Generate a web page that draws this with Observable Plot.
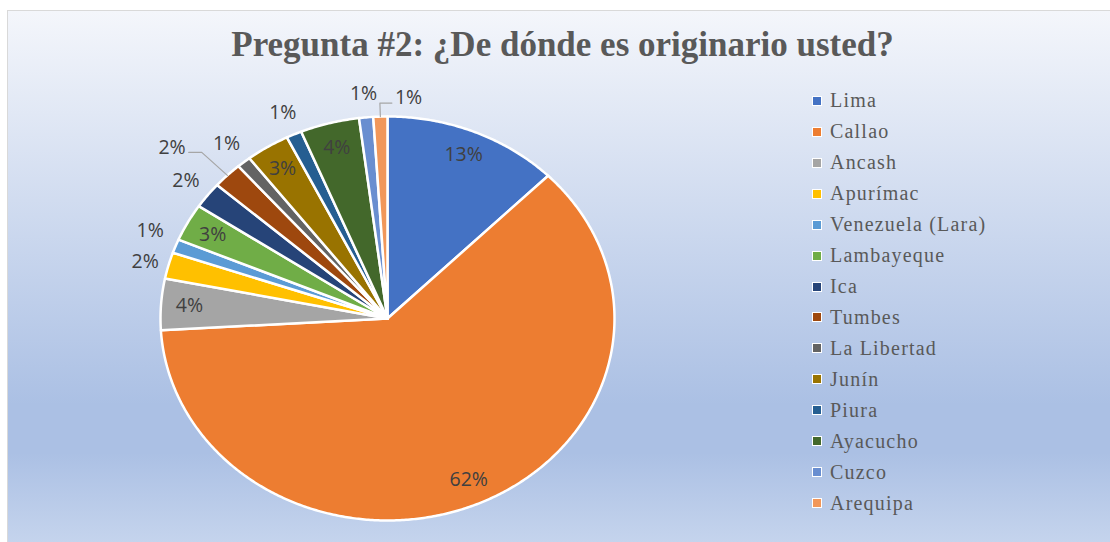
<!DOCTYPE html>
<html><head><meta charset="utf-8">
<script src="https://cdn.jsdelivr.net/npm/d3@7"></script>
<script src="https://cdn.jsdelivr.net/npm/@observablehq/plot@0.6"></script>
<style>
html,body{margin:0;padding:0;background:#fff;width:1110px;height:542px;overflow:hidden;}
#frame{position:absolute;left:7px;top:10px;width:1103px;height:532px;border-left:1px solid #d9d9d9;border-top:1px solid #d9d9d9;
 background:linear-gradient(to bottom,#f4f6fb 0%,#abc0e4 74%,#abc0e4 83%,#c5d4ed 100%);}
#title{position:absolute;left:8px;top:27px;width:1103px;padding-left:6px;box-sizing:border-box;text-align:center;
 font:bold 35px "Liberation Serif","Times New Roman",serif;line-height:35px;color:#595959;white-space:nowrap;}
#chart{position:absolute;left:0;top:0;}
#legend{position:absolute;left:0;top:0;}
.li{position:absolute;left:812px;height:20px;display:flex;align-items:center;white-space:nowrap;}
.sw{width:8px;height:8px;border:1.5px solid #fff;margin-right:8px;}
.lt{font-family:"Liberation Serif","Times New Roman",serif;font-size:20px;color:#595959;letter-spacing:1.2px;}
</style></head>
<body>
<div id="frame"></div>
<div id="title">Pregunta #2: ¿De dónde es originario usted?</div>
<div id="chart"></div>
<div id="legend"></div>
<script>
const categories = ["Lima","Callao","Ancash","Apurímac","Venezuela (Lara)","Lambayeque","Ica","Tumbes","La Libertad","Junín","Piura","Ayacucho","Cuzco","Arequipa"];
const shares = [12.5,61.5,4.1,2.1,1.1,3.0,2.1,2.1,1.0,3.1,1.1,4.2,1.0,1.0];
const colors = ["#4472C4","#ED7D31","#A5A5A5","#FFC000","#5B9BD5","#70AD47","#264478","#9E480E","#636363","#997300","#255E91","#43682B","#698ED0","#F1975A"];

// layout
const cx = 387, cy = 318, rx = 227, ry = 202;
const insideMin = 2.9;
const leaders = {"Tumbes": {elbow: 1.16, run: -13, anchor: "end"}, "Arequipa": {elbow: 1.067, run: 12, anchor: "start"}};
const nudges = {"Venezuela (Lara)": {dx: 0, dy: -7}, "Apurímac": {dx: 3, dy: 3}};

const total = d3.sum(shares);
let acc = 0;
const slices = categories.map((name, i) => {
  const a0 = acc / total * 360; acc += shares[i]; const a1 = acc / total * 360;
  return {name, value: shares[i], a0, a1, mid: (a0 + a1) / 2, pct: shares[i] / total};
});
const polar = (r, deg) => [r * Math.sin(deg * Math.PI / 180), r * Math.cos(deg * Math.PI / 180)];
const fmt = d3.format(".0%");

const pts = slices.flatMap(s => {
  const n = Math.max(2, Math.ceil((s.a1 - s.a0) / 0.5));
  const arr = [{name: s.name, x: 0, y: 0}];
  for (let k = 0; k <= n; k++) { const [x, y] = polar(1, s.a0 + (s.a1 - s.a0) * k / n); arr.push({name: s.name, x, y}); }
  arr.push({name: s.name, x: 0, y: 0});
  return arr;
});

const labels = slices.map(s => {
  const L = leaders[s.name];
  if (L) {
    const [ex, ey] = polar(L.elbow, s.mid);
    return {text: fmt(s.pct), x: ex + L.run / rx, y: ey, anchor: L.anchor, dx: L.anchor === "end" ? -3 : 3, dy: -5};
  }
  const r = s.value >= insideMin ? 0.875 : 1.12;
  const [x, y] = polar(r, s.mid);
  const n = nudges[s.name] || {dx: 0, dy: 0};
  return {text: fmt(s.pct), x, y, anchor: "middle", dx: n.dx, dy: n.dy};
});

const leaderPts = slices.filter(s => leaders[s.name]).flatMap(s => {
  const L = leaders[s.name];
  const [x0, y0] = polar(1.0, s.mid);
  const [x1, y1] = polar(L.elbow, s.mid);
  return [{name: s.name, x: x0, y: y0}, {name: s.name, x: x1, y: y1}, {name: s.name, x: x1 + L.run / rx, y: y1}];
});

const textOpts = {fontFamily: "'Open Sans', 'Noto Sans', sans-serif", fontSize: 19.5, fill: "#404040"};
const byAnchor = a => labels.filter(d => d.anchor === a);

const plot = Plot.plot({
  width: 1110, height: 542,
  margin: 0,
  style: {background: "transparent", overflow: "visible"},
  x: {domain: [-1, 1], range: [cx - rx, cx + rx], axis: null},
  y: {domain: [-1, 1], range: [cy + ry, cy - ry], axis: null},
  color: {domain: categories, range: colors},
  marks: [
    Plot.line(pts, {x: "x", y: "y", z: "name", fill: "name", stroke: "white", strokeWidth: 2.5, strokeLinejoin: "round", curve: "linear"}),
    Plot.line(leaderPts, {x: "x", y: "y", z: "name", stroke: "#a6a6a6", strokeWidth: 1.2}),
    ...["middle", "start", "end"].map(a => Plot.text(byAnchor(a), {x: "x", y: "y", text: "text", textAnchor: a, ...textOpts,
      render: (index, scales, values, dims, context, next) => {
        const g = next(index, scales, values, dims, context);
        const data = byAnchor(a);
        d3.select(g).selectAll("text").each(function(_, j) {
          const d = data[index[j]];
          const t = this.getAttribute("transform") || "";
          this.setAttribute("transform", t + ` translate(${d.dx},${d.dy})`);
        });
        return g;
      }}))
  ]
});
document.getElementById("chart").appendChild(plot);

const legend = document.getElementById("legend");
categories.forEach((name, i) => {
  const item = document.createElement("div");
  item.className = "li";
  item.style.top = (100.7 + i * 30.97 - 10) + "px";
  item.innerHTML = `<span class="sw" style="background:${colors[i]}"></span><span class="lt">${name}</span>`;
  legend.appendChild(item);
});
</script>
</body></html>
